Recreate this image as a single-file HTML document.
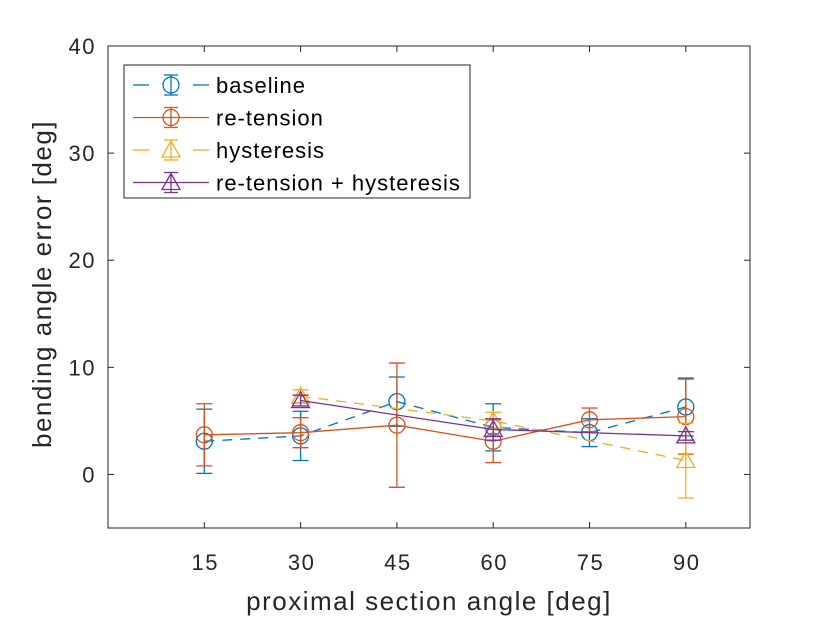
<!DOCTYPE html>
<html><head><meta charset="utf-8"><style>
body{margin:0;background:#fff;}
svg{display:block;font-family:"Liberation Sans",sans-serif;}
</style></head><body>
<svg id="chart" width="830" height="617" viewBox="0 0 830 617">
<rect x="0" y="0" width="830" height="617" fill="#fff"/>
<g id="plot"></g>
</svg>
<script>
const categories=[15,30,45,60,75,90];
const baselineVals=[3.1,3.6,6.8,4.4,3.9,6.3];
const baselineErr=[3.0,2.3,2.3,2.2,1.3,2.7];
const retensionVals=[3.7,3.9,4.6,3.1,5.1,5.4];
const retensionErr=[2.9,1.4,5.8,2.0,1.1,3.5];
const hysteresisVals=[null,7.3,null,5.0,null,1.3];
const hysteresisErr=[null,0.6,null,0.8,null,3.5];
const comboVals=[null,6.9,null,4.2,null,3.6];
const comboErr=[null,0.5,null,1.0,null,0.4];
const yTicks=[0,10,20,30,40];
const xTicks=[15,30,45,60,75,90];
const seriesNames=["baseline","re-tension","hysteresis","re-tension + hysteresis"];

const NS="http://www.w3.org/2000/svg";
const L=108,R=750,T=46,B=528;
const X=v=>L+(v-0)/(100-0)*(R-L);
const Y=v=>B-(v+5)/45*(B-T);
const g=document.getElementById('plot');
function mk(tag,attrs,parent){const e=document.createElementNS(NS,tag);for(const k in attrs)e.setAttribute(k,attrs[k]);(parent||g).appendChild(e);return e;}

const ax=mk('rect',{x:L,y:T,width:R-L,height:B-T,fill:'#fff',stroke:'#262626','stroke-width':1});


yTicks.forEach(t=>{
  const y=Y(t);
  mk('line',{x1:L,x2:L+6,y1:y,y2:y,stroke:'#262626'});
  mk('line',{x1:R,x2:R-6,y1:y,y2:y,stroke:'#262626'});
  const tx=mk('text',{x:L-12,y:y+8,'text-anchor':'end','font-size':22,'letter-spacing':1.5,fill:'#262626'});
  tx.textContent=t;
  
  
});
xTicks.forEach(t=>{
  const x=X(t);
  mk('line',{x1:x,x2:x,y1:B,y2:B-6,stroke:'#262626'});
  mk('line',{x1:x,x2:x,y1:T,y2:T+6,stroke:'#262626'});
  const tx=mk('text',{x:x+1,y:B+42,'text-anchor':'middle','font-size':22,'letter-spacing':1.5,fill:'#262626'});
  tx.textContent=t;
  
  
});
const xl=mk('text',{x:(L+R)/2,y:610,'text-anchor':'middle','font-size':26,'letter-spacing':1.5,fill:'#262626'});
xl.textContent='proximal section angle [deg]';


const yl=mk('text',{x:0,y:0,'text-anchor':'middle','font-size':26,'letter-spacing':1.5,fill:'#262626',transform:`translate(51,${(T+B)/2-3}) rotate(-90)`});
yl.textContent='bending angle error [deg]';



const series=[
 {vals:baselineVals,err:baselineErr,color:'#0072BD',dash:'10,8',marker:'o'},
 {vals:retensionVals,err:retensionErr,color:'#D95319',dash:'',marker:'o'},
 {vals:hysteresisVals,err:hysteresisErr,color:'#EDB120',dash:'10,8',marker:'t'},
 {vals:comboVals,err:comboErr,color:'#7E2F8E',dash:'',marker:'t'}
];
function marker(p,x,y,s){
  if(s.marker==='o') return mk('circle',{cx:x,cy:y,r:8,fill:'none',stroke:s.color,'stroke-width':1.3},p);
  return mk('polygon',{points:`${x},${y-9} ${x-9},${y+7} ${x+9},${y+7}`,fill:'none',stroke:s.color,'stroke-width':1.3},p);
}
series.forEach((s,si)=>{
  const sg=mk('g',{});
  
  
  const pts=[];
  categories.forEach((c,i)=>{if(s.vals[i]!==null)pts.push([X(c),Y(s.vals[i]),i]);});
  mk('polyline',{points:pts.map(p=>p[0]+','+p[1]).join(' '),fill:'none',stroke:s.color,'stroke-width':1.3,'stroke-dasharray':s.dash},sg);
  pts.forEach(([x,y,i])=>{
    const v=s.vals[i],e=s.err[i];
    const y1=Y(v+e),y2=Y(v-e);
    mk('line',{x1:x,x2:x,y1:y1,y2:y2,stroke:s.color,'stroke-width':1.3},sg);
    mk('line',{x1:x-8,x2:x+8,y1:y1,y2:y1,stroke:s.color,'stroke-width':1.3},sg);
    mk('line',{x1:x-8,x2:x+8,y1:y2,y2:y2,stroke:s.color,'stroke-width':1.3},sg);
    const m=marker(sg,x,y,s);
    
    
  });
});

const lg=mk('g',{});


mk('rect',{x:124,y:65,width:346,height:133,fill:'#fff',stroke:'#262626','stroke-width':1},lg);
series.forEach((s,si)=>{
  const y=85+si*32.5;
  const eg=mk('g',{},lg);
  
  
  if(s.dash){
    mk('line',{x1:133,x2:149,y1:y,y2:y,stroke:s.color,'stroke-width':1.3},eg);
    mk('line',{x1:193,x2:209,y1:y,y2:y,stroke:s.color,'stroke-width':1.3},eg);
  } else mk('line',{x1:133,x2:209,y1:y,y2:y,stroke:s.color,'stroke-width':1.3},eg);
  mk('line',{x1:171,x2:171,y1:y-10,y2:y+10,stroke:s.color,'stroke-width':1.3},eg);
  mk('line',{x1:164,x2:178,y1:y-10,y2:y-10,stroke:s.color,'stroke-width':1.3},eg);
  mk('line',{x1:164,x2:178,y1:y+10,y2:y+10,stroke:s.color,'stroke-width':1.3},eg);
  marker(eg,171,y,s);
  const t=mk('text',{x:216,y:y+8,'font-size':22,'letter-spacing':1,fill:'#000'},eg);
  t.textContent=seriesNames[si];
});
</script>
</body></html>
